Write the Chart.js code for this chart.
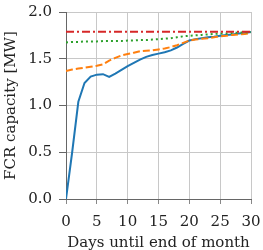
<!DOCTYPE html>
<html>
<head>
<meta charset="utf-8">
<script src="https://cdn.jsdelivr.net/npm/chart.js@4/dist/chart.umd.min.js"></script>
<style>
  html, body { margin: 0; padding: 0; background: #fff; }
  #wrap { width: 263px; height: 250px; }
</style>
</head>
<body>
<div id="wrap"><canvas id="myChart" width="263" height="250"></canvas></div>
<script>
// datos
const days = [0, 1, 2, 3, 4, 5, 6, 7, 8, 9, 10, 11, 12, 13, 14, 15, 16, 17, 18, 19, 20, 21, 22, 23, 24, 25, 26, 27, 28, 29, 30];
const blueCap = [0.0, 0.5, 1.04, 1.24, 1.31, 1.33, 1.335, 1.305, 1.34, 1.38, 1.42, 1.455, 1.49, 1.52, 1.54, 1.555, 1.57, 1.59, 1.62, 1.66, 1.695, 1.71, 1.72, 1.73, 1.735, 1.745, 1.755, 1.76, 1.77, 1.775, 1.785];
const orangeCap = [1.37, 1.385, 1.395, 1.405, 1.415, 1.425, 1.44, 1.48, 1.51, 1.535, 1.55, 1.565, 1.58, 1.585, 1.59, 1.60, 1.61, 1.625, 1.645, 1.67, 1.695, 1.705, 1.715, 1.72, 1.73, 1.74, 1.745, 1.755, 1.76, 1.765, 1.775];
const greenCap = [1.675, 1.68, 1.68, 1.685, 1.685, 1.685, 1.69, 1.69, 1.69, 1.69, 1.695, 1.695, 1.70, 1.70, 1.705, 1.71, 1.715, 1.72, 1.73, 1.74, 1.745, 1.75, 1.755, 1.76, 1.765, 1.77, 1.77, 1.775, 1.78, 1.78, 1.785];
const redCap = [1.79, 1.79, 1.79, 1.79, 1.79, 1.79, 1.79, 1.79, 1.79, 1.79, 1.79, 1.79, 1.79, 1.79, 1.79, 1.79, 1.79, 1.79, 1.79, 1.79, 1.79, 1.79, 1.79, 1.79, 1.79, 1.79, 1.79, 1.79, 1.79, 1.79, 1.79];
const yTicks = [0.0, 0.5, 1.0, 1.5, 2.0];
const xTicks = [0, 5, 10, 15, 20, 25, 30];

const toPoints = (arr) => days.map((d, i) => ({ x: d, y: arr[i] }));
const serif = "'DejaVu Serif', 'Liberation Serif', serif";

const ctx = document.getElementById("myChart").getContext("2d");
new Chart(ctx, {
  type: "line",
  data: {
    datasets: [
      { data: toPoints(redCap), borderColor: "#d62728", borderWidth: 2, borderDash: [8, 3, 2, 3] },
      { data: toPoints(greenCap), borderColor: "#2ca02c", borderWidth: 2, borderDash: [2, 3] },
      { data: toPoints(orangeCap), borderColor: "#ff7f0e", borderWidth: 2, borderDash: [7, 3] },
      { data: toPoints(blueCap), borderColor: "#1f77b4", borderWidth: 2 },
    ],
  },
  options: {
    responsive: false,
    animation: false,
    events: [],
    layout: { padding: { top: 12, right: 12, left: 0, bottom: 0 } },
    elements: { point: { radius: 0 }, line: { tension: 0 } },
    plugins: { legend: { display: false }, tooltip: { enabled: false } },
    scales: {
      x: {
        type: "linear",
        min: 0,
        max: 30,
        afterBuildTicks: (axis) => { axis.ticks = xTicks.map((v) => ({ value: v })); },
        afterFit: (axis) => { axis.height = 51; axis.paddingLeft = 0; axis.paddingRight = 0; },
        grid: { color: "#c8c8c8", tickLength: 5, tickColor: "#888" },
        border: { color: "#666" },
        ticks: { color: "#222", font: { family: serif, size: 15 }, padding: 9, maxRotation: 0 },
        title: { display: true, text: "Days until end of month", color: "#222", font: { family: serif, size: 15 }, padding: { top: 0, bottom: -2 } },
      },
      y: {
        min: 0,
        max: 2,
        afterBuildTicks: (axis) => { axis.ticks = yTicks.map((v) => ({ value: v })); },
        afterFit: (axis) => { axis.width = 66; axis.paddingTop = 0; axis.paddingBottom = 0; },
        grid: { color: "#c8c8c8", tickLength: 7, tickColor: "#666" },
        border: { color: "#666" },
        ticks: { color: "#222", font: { family: serif, size: 15 }, padding: 7, callback: (v) => v.toFixed(1) },
        title: { display: true, text: "FCR capacity [MW]", color: "#222", font: { family: serif, size: 15 }, padding: { top: 2, bottom: 0 } },
      },
    },
  },
});
</script>
</body>
</html>
